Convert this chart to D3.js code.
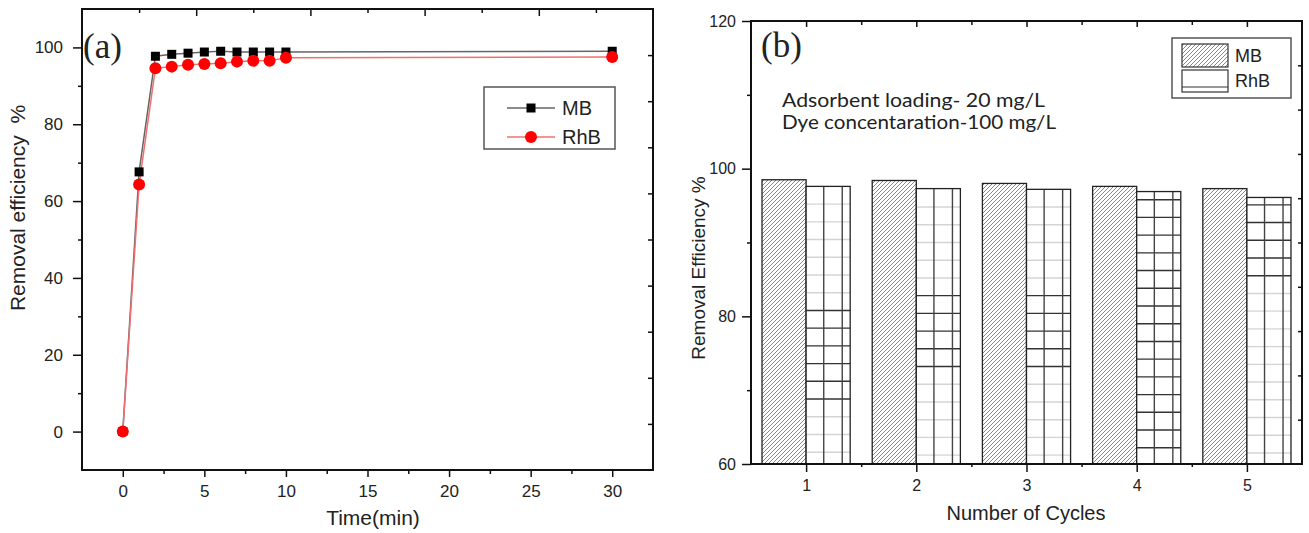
<!DOCTYPE html>
<html>
<head>
<meta charset="utf-8">
<script src="https://cdn.jsdelivr.net/npm/d3@7"></script>
<style>
  body { margin: 0; background: #fff; }
  svg text { font-family: "Liberation Sans", Arial, sans-serif; fill: #222; }
</style>
</head>
<body>
<svg id="chart" width="1309" height="533"></svg>
<script>
// panel (a): removal vs time
var timeMin = [0, 1, 2, 3, 4, 5, 6, 7, 8, 9, 10, 30];
var mbTime  = [0, 67.6, 97.7, 98.2, 98.5, 98.8, 99.0, 98.8, 98.8, 98.8, 98.8, 99.0];
var rhbTime = [0, 64.3, 94.6, 95.0, 95.5, 95.7, 95.9, 96.3, 96.5, 96.5, 97.3, 97.5];
var timeTicks = [0, 5, 10, 15, 20, 25, 30];
var effTicks = [0, 20, 40, 60, 80, 100];

// panel (b): reuse cycles
var cycles   = [1, 2, 3, 4, 5];
var mbCycle  = [98.5, 98.4, 98.0, 97.6, 97.3];
var rhbCycle = [97.6, 97.3, 97.2, 96.9, 96.1];
var cycleEffTicks = [60, 80, 100, 120];
// where the RhB grid hatch reads dark (scan artefact in the original)
var rhbGridHi = [80.8, 82.8, 82.8, 95.8, 95.1];
var rhbGridLo = [66.4, 73.1, 73.1, 60, 84];

var seriesNames = ['MB', 'RhB'];

var svg = d3.select('#chart');
var defs = svg.append('defs');

defs.append('pattern')
  .attr('id', 'hatch')
  .attr('patternUnits', 'userSpaceOnUse')
  .attr('width', 4).attr('height', 4)
  .append('path')
  .attr('d', 'M-1,1 l2,-2 M0,4 l4,-4 M3,5 l2,-2')
  .attr('stroke', '#6a6a6a').attr('stroke-width', 0.8);

function axis(a, pos, vals, size, fmt, fs, pad) {
  var g = svg.append('g')
    .attr('transform', 'translate(' + pos + ')')
    .call(a.tickValues(vals).tickSize(size).tickSizeOuter(0)
      .tickPadding(pad || 4)
      .tickFormat(fmt || function () { return ''; }));
  g.select('.domain').remove();
  g.selectAll('line').attr('stroke', '#111').attr('stroke-width', 1.5);
  g.selectAll('text').attr('font-size', fs || 16).attr('fill', '#222');
  return g;
}

// ---------- panel (a) ----------
var xA = d3.scaleLinear().domain([-2.5, 32.5]).range([82, 653]);
var yA = d3.scaleLinear().domain([-10, 110]).range([470, 9]);
var topA = d3.scaleLinear().domain([0, 10]).range([82, 653]);
var rightA = d3.scaleLinear().domain([0, 10]).range([470, 9]);

axis(d3.axisBottom(xA), '0,470', timeTicks, 7, d3.format('d'), 17, 8);
axis(d3.axisBottom(xA), '0,470', [2.5, 7.5, 12.5, 17.5, 22.5, 27.5], 4);
axis(d3.axisLeft(yA), '82,0', effTicks, 9, d3.format('d'), 17, 10);
axis(d3.axisLeft(yA), '82,0', [10, 30, 50, 70, 90], 4);
axis(d3.axisBottom(topA), '0,9', [1, 3, 5, 7, 9], 4);
axis(d3.axisBottom(topA), '0,9', [2, 4, 6, 8], 7);
axis(d3.axisLeft(rightA), '653,0', [1, 2, 3, 4, 5, 6, 7, 8, 9], 5);

svg.append('rect')
  .attr('x', xA(-2.5)).attr('y', yA(110))
  .attr('width', xA(32.5) - xA(-2.5)).attr('height', yA(-10) - yA(110))
  .attr('fill', 'none').attr('stroke', '#111').attr('stroke-width', 2);

var lineA = d3.line()
  .x(function (d) { return xA(d[0]); })
  .y(function (d) { return yA(d[1]); });

var mbPts = d3.zip(timeMin, mbTime);
var rhbPts = d3.zip(timeMin, rhbTime);

svg.append('path').datum(mbPts).attr('d', lineA)
  .attr('fill', 'none').attr('stroke', '#666').attr('stroke-width', 1.5);
svg.append('path').datum(rhbPts).attr('d', lineA)
  .attr('fill', 'none').attr('stroke', '#f07070').attr('stroke-width', 1.5);

svg.append('g').selectAll('rect').data(mbPts).enter().append('rect')
  .attr('x', function (d) { return xA(d[0]) - 4.5; })
  .attr('y', function (d) { return yA(d[1]) - 4.5; })
  .attr('width', 9).attr('height', 9)
  .attr('fill', '#000');
svg.append('g').selectAll('circle').data(rhbPts).enter().append('circle')
  .attr('cx', function (d) { return xA(d[0]); })
  .attr('cy', function (d) { return yA(d[1]); })
  .attr('r', 6)
  .attr('fill', '#f00');

// legend (a)
var legA = svg.append('g');
legA.append('rect')
  .attr('x', 484).attr('y', 87).attr('width', 131).attr('height', 62)
  .attr('fill', '#fff').attr('stroke', '#555').attr('stroke-width', 1.5);
seriesNames.forEach(function (name, i) {
  var y = 108 + i * 29;
  legA.append('line')
    .attr('x1', 507).attr('x2', 555).attr('y1', y).attr('y2', y)
    .attr('stroke', i ? '#f07070' : '#666').attr('stroke-width', 1.5);
  if (i) {
    legA.append('circle').attr('cx', 531).attr('cy', y).attr('r', 6).attr('fill', '#f00');
  } else {
    legA.append('rect').attr('x', 526.5).attr('y', y - 4.5)
      .attr('width', 9).attr('height', 9).attr('fill', '#000');
  }
  legA.append('text').attr('x', 562).attr('y', y + 7)
    .attr('font-size', 20).text(name);
});

svg.append('text').attr('x', 83).attr('y', 58)
  .style('font-family', '"Liberation Serif", "Times New Roman", serif')
  .attr('font-size', 35).text('(a)');

svg.append('text').attr('x', 373).attr('y', 525)
  .attr('text-anchor', 'middle').attr('font-size', 21).text('Time(min)');
svg.append('text')
  .attr('transform', 'translate(25,208) rotate(-90)')
  .attr('text-anchor', 'middle').attr('font-size', 21)
  .text('Removal efficiency\u00a0\u00a0%');

// ---------- panel (b) ----------
var xB = d3.scaleLinear().domain([0.5, 5.5]).range([751, 1302]);
var yB = d3.scaleLinear().domain([60, 120]).range([464, 21]);

var barW = 0.4;

var bars = svg.append('g');
cycles.forEach(function (c, i) {
  // MB bar
  bars.append('rect')
    .attr('x', xB(c - barW)).attr('y', yB(mbCycle[i]))
    .attr('width', xB(c) - xB(c - barW)).attr('height', yB(60) - yB(mbCycle[i]))
    .attr('fill', 'url(#hatch)').attr('stroke', '#222').attr('stroke-width', 1.3);

  // RhB bar with grid hatch
  var x0 = xB(c), x1 = xB(c + barW), w = x1 - x0;
  var top = yB(rhbCycle[i]);
  bars.append('rect')
    .attr('x', x0).attr('y', top).attr('width', w).attr('height', yB(60) - top)
    .attr('fill', '#fff');
  var levels = [];
  for (var v = rhbGridHi[i]; v > 60.5; v -= 2.4) levels.push(v);
  for (var u = rhbGridHi[i] + 2.4; u < rhbCycle[i] - 0.3; u += 2.4) levels.push(u);
  levels.forEach(function (v) {
    var dark = v <= rhbGridHi[i] + 0.01 && v >= rhbGridLo[i];
    bars.append('line')
      .attr('x1', x0).attr('x2', x1).attr('y1', yB(v)).attr('y2', yB(v))
      .attr('stroke', dark ? '#333' : '#d4d4d4').attr('stroke-width', 1.4);
  });
  [0.4, 0.82].forEach(function (f) {
    bars.append('line')
      .attr('x1', x0 + f * w).attr('x2', x0 + f * w)
      .attr('y1', top).attr('y2', yB(60))
      .attr('stroke', '#444').attr('stroke-width', 1.4);
  });
  bars.append('rect')
    .attr('x', x0).attr('y', top).attr('width', w).attr('height', yB(60) - top)
    .attr('fill', 'none').attr('stroke', '#222').attr('stroke-width', 1.3);
});

axis(d3.axisBottom(xB), '0,464', cycles, 8, d3.format('d'), 16, 8);
axis(d3.axisBottom(xB), '0,464', [1.5, 2.5, 3.5, 4.5], 3);
axis(d3.axisLeft(yB), '751,0', cycleEffTicks, 9, d3.format('d'), 16, 6);
axis(d3.axisLeft(yB), '751,0', [70, 90, 110], 4);
axis(d3.axisBottom(xB), '0,21', cycles, 6);
axis(d3.axisBottom(xB), '0,21', [1.5, 2.5, 3.5, 4.5], 4);
axis(d3.axisLeft(yB), '1302,0', [66, 72, 78, 84, 90, 96, 102, 108, 114], 4);

svg.append('rect')
  .attr('x', xB(0.5)).attr('y', yB(120))
  .attr('width', xB(5.5) - xB(0.5)).attr('height', yB(60) - yB(120))
  .attr('fill', 'none').attr('stroke', '#111').attr('stroke-width', 2);

// legend (b)
var legB = svg.append('g');
legB.append('rect')
  .attr('x', 1172).attr('y', 38).attr('width', 119).attr('height', 60)
  .attr('fill', '#fff').attr('stroke', '#555').attr('stroke-width', 1.5);
legB.append('rect')
  .attr('x', 1182).attr('y', 44).attr('width', 46).attr('height', 23)
  .attr('fill', 'url(#hatch)').attr('stroke', '#333').attr('stroke-width', 1.2);
legB.append('rect')
  .attr('x', 1182).attr('y', 70).attr('width', 46).attr('height', 22)
  .attr('fill', '#fff').attr('stroke', '#333').attr('stroke-width', 1.2);
legB.append('line')
  .attr('x1', 1182).attr('x2', 1228).attr('y1', 87).attr('y2', 87)
  .attr('stroke', '#333').attr('stroke-width', 1.2);
seriesNames.forEach(function (name, i) {
  legB.append('text').attr('x', 1235).attr('y', 62 + i * 25)
    .attr('font-size', 18).text(name);
});

svg.append('text').attr('x', 761).attr('y', 57)
  .style('font-family', '"Liberation Serif", "Times New Roman", serif')
  .attr('font-size', 35).text('(b)');

svg.append('text').attr('x', 782).attr('y', 107)
  .style('font-family', 'Lato, "Open Sans", sans-serif')
  .attr('font-size', 18.5).attr('textLength', 263).attr('lengthAdjust', 'spacingAndGlyphs')
  .text('Adsorbent loading- 20 mg/L');
svg.append('text').attr('x', 782).attr('y', 129)
  .style('font-family', 'Lato, "Open Sans", sans-serif')
  .attr('font-size', 18.5).attr('textLength', 274).attr('lengthAdjust', 'spacingAndGlyphs')
  .text('Dye concentaration-100 mg/L');

svg.append('text').attr('x', 1026).attr('y', 520)
  .attr('text-anchor', 'middle').attr('font-size', 20).text('Number of Cycles');
svg.append('text')
  .attr('transform', 'translate(705,268) rotate(-90)')
  .attr('text-anchor', 'middle').attr('font-size', 19)
  .text('Removal Efficiency %');
</script>
</body>
</html>
